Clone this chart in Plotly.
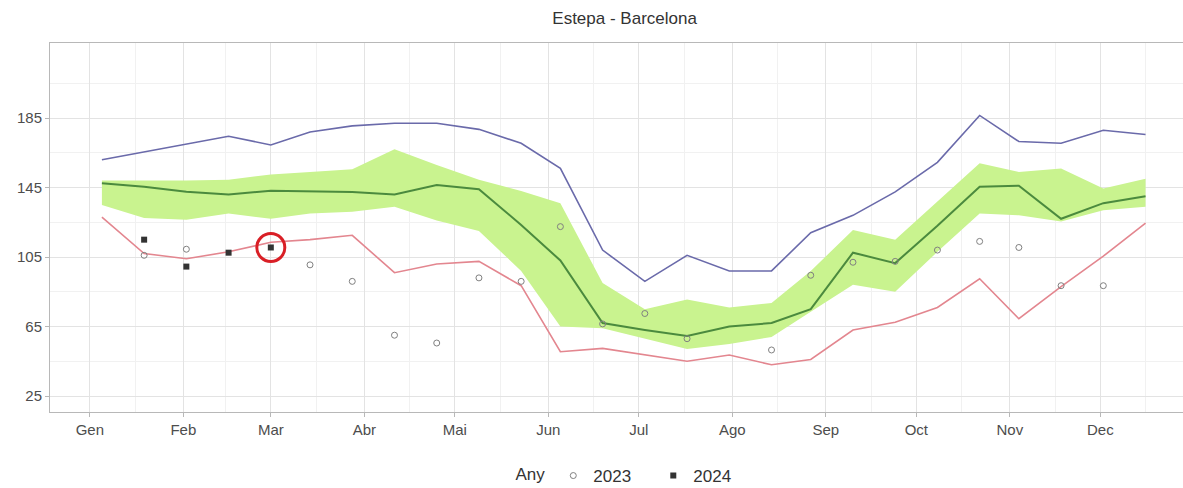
import plotly.graph_objects as go

# ---------------- data ----------------
dates = ['2024-01-05', '2024-01-19', '2024-02-02', '2024-02-16', '2024-03-01',
         '2024-03-14', '2024-03-28', '2024-04-11', '2024-04-25', '2024-05-09',
         '2024-05-23', '2024-06-05', '2024-06-19', '2024-07-03', '2024-07-17',
         '2024-07-31', '2024-08-14', '2024-08-27', '2024-09-10', '2024-09-24',
         '2024-10-08', '2024-10-22', '2024-11-04', '2024-11-18', '2024-12-02',
         '2024-12-16']

max_vals = [161, 165.5, 170, 174.5, 169.5, 177, 180.5, 182, 182, 178.5,
            170.5, 156, 109, 91, 106, 97, 97, 119, 129, 142.5,
            159.5, 186.5, 171.5, 170.5, 178, 175.5]

min_vals = [128, 107, 104, 108, 113.5, 115, 117.5, 96, 101, 102.5,
            88.5, 50.5, 52.4, 48.6, 45, 48.6, 43, 46, 63, 67.5,
            76, 92.5, 69.5, 88, 105.5, 124.5]

median_vals = [147.4, 145.5, 142.6, 141, 143.2, 143, 142.5, 141, 146.4, 144,
               123.5, 103, 67, 63, 59.5, 65, 67, 75, 107.5, 101.5,
               123, 145.5, 146, 127, 136, 140]

q_upper = [149, 149, 149, 149.5, 152.5, 154, 155.5, 167, 158, 149.5,
           143, 136, 90, 75, 80.5, 76, 78.5, 97, 120.5, 115,
           137, 159, 154, 156, 144.5, 150]

q_lower = [135, 127.5, 126.5, 130, 127, 130, 131, 134, 126, 120,
           97, 65, 64, 58, 52, 55, 59, 73.5, 89, 85,
           108, 130, 129, 125.5, 132, 134]

vals_2023 = [None, 106, 109.5, None, None, 100.5, 91, 60, 55.5, 93,
             91, 122.5, 66.5, 72.5, 58, None, 51.5, 94.5, 102, 102.5,
             109, 114, 110.5, 88.5, 88.5, None]

vals_2024 = [None, 115, 99.5, 107.5, 110.5] + [None] * 21

highlight_index = 4

month_ticks = ['2024-01-01', '2024-02-01', '2024-03-01', '2024-04-01', '2024-05-01',
               '2024-06-01', '2024-07-01', '2024-08-01', '2024-09-01', '2024-10-01',
               '2024-11-01', '2024-12-01']
month_labels = ['Gen', 'Feb', 'Mar', 'Abr', 'Mai', 'Jun', 'Jul', 'Ago', 'Sep',
                'Oct', 'Nov', 'Dec']
month_minor = ['2024-01-16', '2024-02-15', '2024-03-16', '2024-04-16', '2024-05-16',
               '2024-06-16', '2024-07-16', '2024-08-16', '2024-09-16', '2024-10-16',
               '2024-11-16', '2024-12-16']
y_ticks = [25, 65, 105, 145, 185]
y_minor = [45, 85, 125, 165, 205]

title_text = 'Estepa - Barcelona'
legend_title = 'Any'

# ---------------- figure ----------------
FONT = 'Liberation Sans, Arial, sans-serif'
fig = go.Figure()

# quartile band
fig.add_trace(go.Scatter(x=dates, y=q_lower, mode='lines', line=dict(width=0),
                         showlegend=False, hoverinfo='skip'))
fig.add_trace(go.Scatter(x=dates, y=q_upper, mode='lines', line=dict(width=0),
                         fill='tonexty', fillcolor='#c9f38f',
                         showlegend=False, hoverinfo='skip'))

fig.add_trace(go.Scatter(x=dates, y=min_vals, mode='lines',
                         line=dict(color='#e3868f', width=1.6), showlegend=False))
fig.add_trace(go.Scatter(x=dates, y=max_vals, mode='lines',
                         line=dict(color='#6a6aaa', width=1.6), showlegend=False))
fig.add_trace(go.Scatter(x=dates, y=median_vals, mode='lines',
                         line=dict(color='#4b8a3e', width=2), showlegend=False))

fig.add_trace(go.Scatter(x=dates, y=vals_2023, mode='markers', name='2023',
                         marker=dict(symbol='circle-open', size=6, color='#808080',
                                     line=dict(width=1))))
fig.add_trace(go.Scatter(x=dates, y=vals_2024, mode='markers', name='2024',
                         marker=dict(symbol='square', size=6, color='#333333')))

fig.add_trace(go.Scatter(x=[dates[highlight_index]], y=[vals_2024[highlight_index]],
                         mode='markers', showlegend=False,
                         marker=dict(symbol='circle-open', size=28, color='#d91f26',
                                     line=dict(width=3, color='#d91f26'))))

axis_common = dict(showline=True, linecolor='#b8b8b8', linewidth=1, mirror=True,
                   ticks='outside', ticklen=4, tickcolor='#b8b8b8', automargin=False,
                   showgrid=True, gridcolor='#e3e3e3', gridwidth=1, zeroline=False,
                   tickfont=dict(family=FONT, size=15, color='#4d4d4d'))

fig.update_layout(
    width=1183, height=488,
    margin=dict(l=50, r=0, t=43, b=76, autoexpand=False),
    paper_bgcolor='white', plot_bgcolor='white',
    title=dict(text=title_text, x=0.528, xanchor='center', y=1 - 18 / 488,
               yref='container', yanchor='middle',
               font=dict(family=FONT, size=17, color='#333333')),
    xaxis=dict(type='date', range=['2023-12-18 19:00', '2024-12-28 10:00'],
               tickmode='array', tickvals=month_ticks, ticktext=month_labels,
               minor=dict(tickmode='array', tickvals=month_minor, showgrid=True,
                          gridcolor='#f1f1f1', ticks=''),
               **axis_common),
    yaxis=dict(range=[15.8, 228.2], tickmode='array', tickvals=y_ticks,
               minor=dict(tickmode='array', tickvals=y_minor, showgrid=True,
                          gridcolor='#f1f1f1', ticks=''),
               **axis_common),
    legend=dict(orientation='h', x=0.515, xanchor='center',
                yref='container', y=12 / 488, yanchor='middle', traceorder='normal',
                entrywidth=55, entrywidthmode='pixels',
                title=dict(text=legend_title, side='left',
                           font=dict(family=FONT, size=17, color='#333333')),
                font=dict(family=FONT, size=17, color='#333333')),
    showlegend=True,
)

fig.write_html(
    'out.html',
    config={'displayModeBar': False},
    post_script=("document.documentElement.style.overflow='hidden';"
                 "document.body.style.overflow='hidden';"
                 "document.body.style.margin='0';document.body.style.padding='0';"),
)
